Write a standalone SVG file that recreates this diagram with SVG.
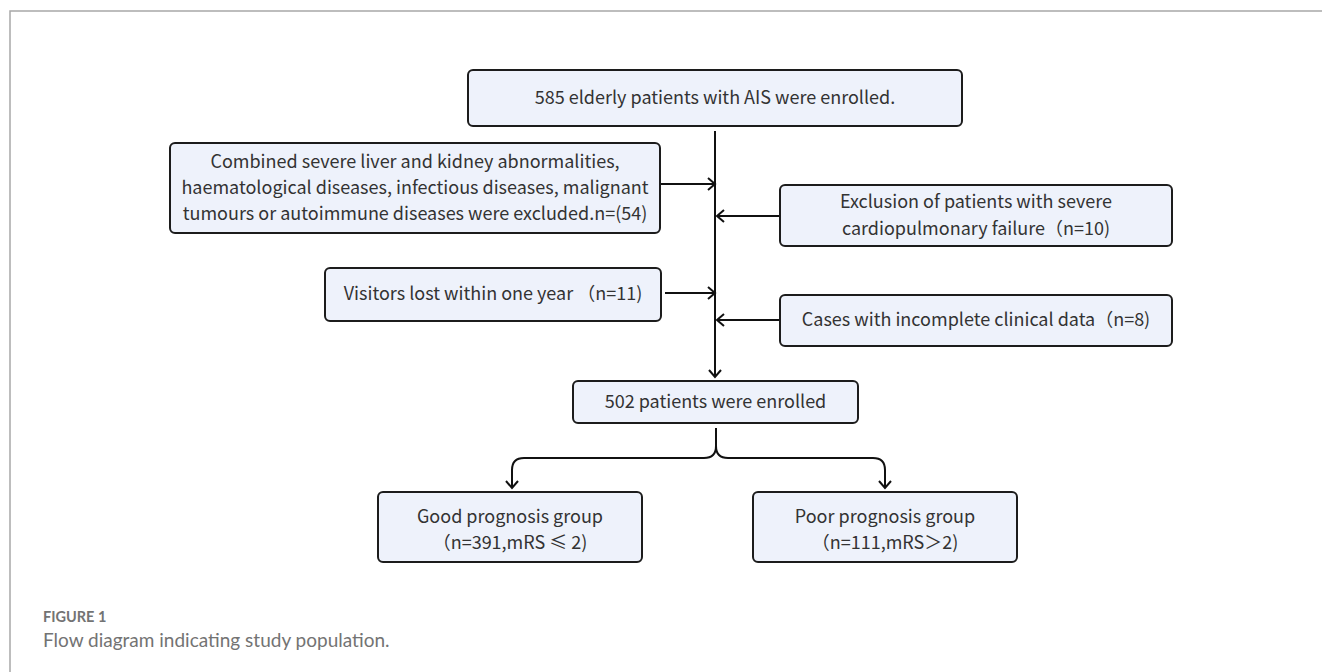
<svg xmlns="http://www.w3.org/2000/svg" width="1322" height="672" viewBox="0 0 1322 672">
<style>
.box{fill:#eef2fb;stroke:#1c1c1c;stroke-width:2}
.t{font-family:"Noto Sans CJK SC","Noto Sans",sans-serif;font-size:18px;fill:#333;text-anchor:middle}
.c{fill:none;stroke:#111;stroke-width:2}
.cap1{font-family:Lato,"Open Sans",sans-serif;font-size:14.5px;font-weight:bold;fill:#737373}
.cap2{font-family:Lato,"Open Sans",sans-serif;font-size:19px;fill:#737373}
</style>
<defs>
<marker id="ah" markerUnits="userSpaceOnUse" markerWidth="12" markerHeight="14" viewBox="0 0 12 14" refX="10" refY="7" orient="auto">
<path d="M3,1 L10,7 L3,13" fill="none" stroke="#111" stroke-width="2"/>
</marker>
</defs>
<g id="frame">
<path d="M10,672 L10,11 L1322,11" fill="none" stroke="#a8a8a8" stroke-width="1.5"/>
</g>
<g id="connectors">
<path class="c" d="M715,131 L715,377" marker-end="url(#ah)"/>
<path class="c" d="M660,184 L715,184" marker-end="url(#ah)"/>
<path class="c" d="M780,216 L717,216" marker-end="url(#ah)"/>
<path class="c" d="M665,293 L715,293" marker-end="url(#ah)"/>
<path class="c" d="M780,320 L717,320" marker-end="url(#ah)"/>
<path class="c" d="M716,428 L716,446 Q716,458 704,458 L524,458 Q512,458 512,470 L512,488" marker-end="url(#ah)"/>
<path class="c" d="M716,446 Q716,458 728,458 L873,458 Q885,458 885,470 L885,488" marker-end="url(#ah)"/>
</g>
<g id="n-top">
<rect class="box" x="468" y="70" width="494" height="56" rx="5"/>
<text class="t" x="715" y="104">585 elderly patients with AIS were enrolled.</text>
</g>
<g id="n-excl1">
<rect class="box" x="170" y="143" width="490" height="90" rx="5"/>
<text class="t" x="415" y="168">Combined severe liver and kidney abnormalities,</text>
<text class="t" x="415" y="194">haematological diseases, infectious diseases, malignant</text>
<text class="t" x="415" y="220">tumours or autoimmune diseases were excluded.n=(54)</text>
</g>
<g id="n-excl2">
<rect class="box" x="780" y="185" width="392" height="61" rx="5"/>
<text class="t" x="976" y="208">Exclusion of patients with severe</text>
<text class="t" x="976" y="235">cardiopulmonary failure（n=10)</text>
</g>
<g id="n-lost">
<rect class="box" x="325" y="268" width="336" height="53" rx="5"/>
<text class="t" x="493" y="300">Visitors lost within one year （n=11)</text>
</g>
<g id="n-incomplete">
<rect class="box" x="780" y="295" width="392" height="51" rx="5"/>
<text class="t" x="976" y="326">Cases with incomplete clinical data（n=8)</text>
</g>
<g id="n-enrolled">
<rect class="box" x="573" y="381" width="285" height="42" rx="5"/>
<text class="t" x="715.5" y="408">502 patients were enrolled</text>
</g>
<g id="n-good">
<rect class="box" x="378" y="492" width="264" height="70" rx="5"/>
<text class="t" x="510" y="523">Good prognosis group</text>
<text class="t" x="510" y="549">（n=391,mRS ≤ 2)</text>
</g>
<g id="n-poor">
<rect class="box" x="753" y="492" width="264" height="70" rx="5"/>
<text class="t" x="885" y="523">Poor prognosis group</text>
<text class="t" x="885" y="549">（n=111,mRS＞2)</text>
</g>
<g id="caption">
<text class="cap1" x="43" y="622">FIGURE 1</text>
<text class="cap2" x="43" y="647">Flow diagram indicating study population.</text>
</g>
</svg>
